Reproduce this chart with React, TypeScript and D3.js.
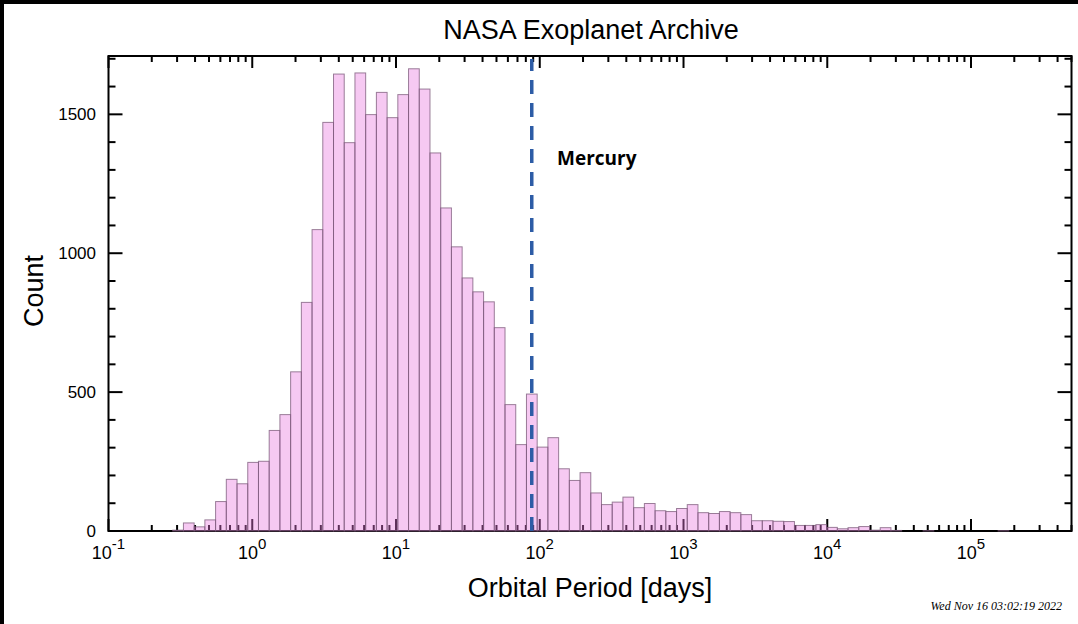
import React from "react";
import * as d3 from "d3";

// Histogram of orbital periods (days), log-spaced bins
const BIN_START_DAYS = 0.2797; // lower edge of first bin
const BIN_DEX = 0.07457; // bin width in log10(days)
const counts: number[] = [
  3, 29, 15, 40, 106, 186, 170, 247, 251, 362, 419, 573, 823, 1085, 1471, 1645,
  1398, 1649, 1499, 1579, 1488, 1571, 1664, 1591, 1361, 1163, 1023, 911, 861,
  825, 732, 455, 311, 493, 302, 336, 224, 182, 210, 137, 95, 104, 122, 84, 99,
  73, 70, 81, 95, 66, 63, 70, 66, 59, 37, 37, 35, 34, 20, 20, 23, 13, 8, 12, 16,
  3, 12, 2, 0, 0, 1, 0, 0, 0, 0, 0, 0, 1,
];
const xDomain: [number, number] = [0.1, 5e5];
const yDomain: [number, number] = [0, 1710];
const xMajorExps: number[] = [-1, 0, 1, 2, 3, 4, 5];
const yMajorTicks: number[] = [0, 500, 1000, 1500];
const yMinorStep = 100;
const mercuryPeriod = 87.97;
const title = "NASA Exoplanet Archive";
const xLabel = "Orbital Period [days]";
const yLabel = "Count";
const stamp = "Wed Nov 16 03:02:19 2022";

const W = 1078;
const H = 624;
const L = 108.5,
  R = 1071.5,
  T = 56,
  B = 531;

export default function App() {
  const x = d3.scaleLog().domain(xDomain).range([L, R]);
  const y = d3.scaleLinear().domain(yDomain).range([B, T]);

  const xMinor: number[] = [];
  for (let e = -1; e <= 5; e++) {
    for (let m = 2; m <= 9; m++) {
      const v = m * Math.pow(10, e);
      if (v <= xDomain[1] + 1e-6) xMinor.push(v);
    }
  }
  const xMajor = xMajorExps.map((e) => Math.pow(10, e));
  const yMinor = d3.range(0, yDomain[1], yMinorStep).filter((v) => !yMajorTicks.includes(v));

  const bins = counts.map((c, i) => {
    const lo = BIN_START_DAYS * Math.pow(10, i * BIN_DEX);
    const hi = BIN_START_DAYS * Math.pow(10, (i + 1) * BIN_DEX);
    return { lo, hi, c };
  });

  const tickStroke = { stroke: "#000", strokeWidth: 2 };
  const sans = "'Liberation Sans', Arial, Helvetica, sans-serif";

  return (
    <svg
      width={W}
      height={H}
      style={{ position: "absolute", left: 0, top: 0, background: "#fff" }}
    >
      <rect x={0} y={0} width={W} height={H} fill="#fff" />
      <rect x={0} y={0} width={W} height={4} fill="#000" />
      <rect x={0} y={0} width={4} height={H} fill="#000" />

      {/* ticks */}
      <g {...tickStroke}>
        {xMajor.map((v) => (
          <g key={"xM" + v}>
            <line x1={x(v)} x2={x(v)} y1={B} y2={B - 12} />
            <line x1={x(v)} x2={x(v)} y1={T} y2={T + 12} />
          </g>
        ))}
        {xMinor.map((v) => (
          <g key={"xm" + v}>
            <line x1={x(v)} x2={x(v)} y1={B} y2={B - 6} />
            <line x1={x(v)} x2={x(v)} y1={T} y2={T + 6} />
          </g>
        ))}
        {yMajorTicks.map((v) => (
          <g key={"yM" + v}>
            <line x1={L} x2={L + 14} y1={y(v)} y2={y(v)} />
            <line x1={R} x2={R - 14} y1={y(v)} y2={y(v)} />
          </g>
        ))}
        {yMinor.map((v) => (
          <g key={"ym" + v}>
            <line x1={L} x2={L + 7} y1={y(v)} y2={y(v)} />
            <line x1={R} x2={R - 7} y1={y(v)} y2={y(v)} />
          </g>
        ))}
      </g>
      <rect x={L} y={T} width={R - L} height={B - T} fill="none" stroke="#000" strokeWidth={2} />

      {/* bars */}
      <g>
        {bins
          .filter((b) => b.c > 0)
          .map((b, i) => (
            <rect
              key={i}
              x={x(b.lo)}
              y={y(b.c)}
              width={x(b.hi) - x(b.lo)}
              height={y(0) - y(b.c)}
              fill="rgb(232,120,222)"
              fillOpacity={0.4}
              stroke="#7a5878"
              strokeOpacity={0.75}
              strokeWidth={1}
            />
          ))}
      </g>

      {/* Mercury line */}
      <line
        x1={x(mercuryPeriod)}
        x2={x(mercuryPeriod)}
        y1={B}
        y2={T + 3}
        stroke="#2d5ca6"
        strokeWidth={3.5}
        strokeDasharray="14 9"
      />
      <text
        x={557}
        y={165}
        fontFamily="'Open Sans', sans-serif"
        fontWeight={700}
        fontSize={19}
        fill="#000"
      >
        Mercury
      </text>

      {/* x tick labels */}
      {xMajorExps.map((e) => (
        <text
          key={"xl" + e}
          x={x(Math.pow(10, e))}
          y={559}
          textAnchor="middle"
          fontFamily={sans}
          fontSize={18}
          fill="#000"
        >
          10
          <tspan dy={-10} fontSize={15}>
            {String(e)}
          </tspan>
        </text>
      ))}

      {/* y tick labels */}
      {yMajorTicks.map((v) => (
        <text
          key={"yl" + v}
          x={96}
          y={y(v) + 6}
          textAnchor="end"
          fontFamily={sans}
          fontSize={17}
          fill="#000"
        >
          {v}
        </text>
      ))}

      <text x={591} y={39} textAnchor="middle" fontFamily={sans} fontSize={27} fill="#000">
        {title}
      </text>
      <text x={590} y={597} textAnchor="middle" fontFamily={sans} fontSize={27} fill="#000">
        {xLabel}
      </text>
      <text
        transform={`translate(43,291) rotate(-90)`}
        textAnchor="middle"
        fontFamily={sans}
        fontSize={27}
        fill="#000"
      >
        {yLabel}
      </text>
      <text
        x={1062}
        y={610}
        textAnchor="end"
        fontFamily="'Liberation Serif', 'Times New Roman', serif"
        fontStyle="italic"
        fontSize={12}
        fill="#000"
      >
        {stamp}
      </text>
    </svg>
  );
}
